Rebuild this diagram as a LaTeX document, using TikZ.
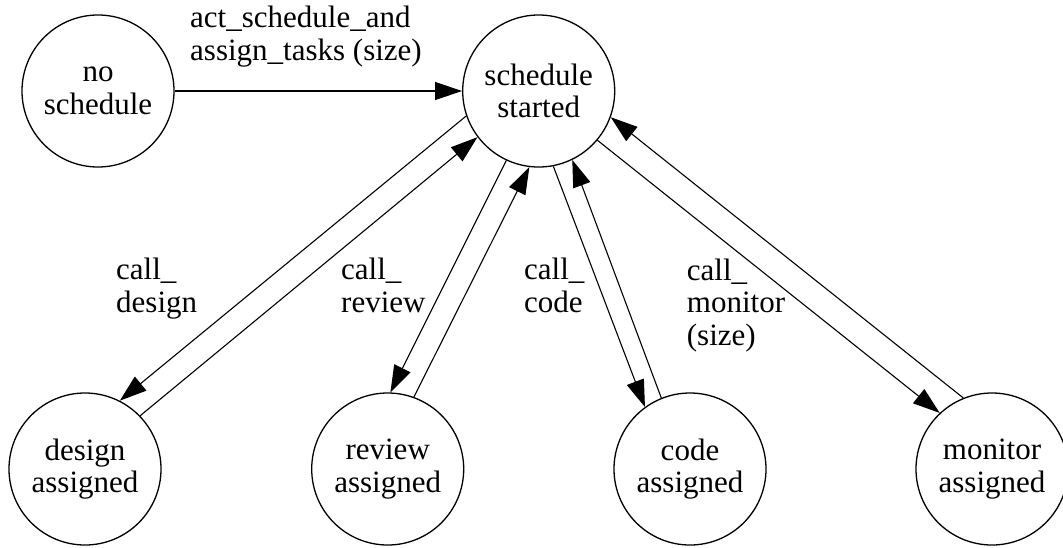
\documentclass[tikz,border=0pt]{standalone}
\usepackage{fontspec}
\setmainfont{Liberation Serif}
\usetikzlibrary{arrows.meta}
\tikzset{
  state/.style={circle, draw, line width=1.3pt, minimum size=152pt, inner sep=0pt, align=center},
  lbl/.style={anchor=base west, inner sep=0pt, align=left},
  edge/.style={line width=1.1pt, -{Triangle[length=27pt,width=18pt]}}
}
\begin{document}
\begin{tikzpicture}[x=1pt,y=-1pt,font=\fontsize{31}{32.5}\selectfont]
\useasboundingbox (0,0) rectangle (1063,547);
\node[state] (n) at (98,91) {no\\schedule};
\node[state] (s) at (538.7,91) {schedule\\started};
\node[state] (d) at (85,469) {design\\assigned};
\node[state] (r) at (387.7,469) {review\\assigned};
\node[state] (c) at (690,469) {code\\assigned};
\node[state] (m) at (992,469) {monitor\\assigned};

\draw[edge] (n.east) -- (s.west);
\draw[edge] (s.199.9) -- (d.63.1);
\draw[edge] (d.44.5) -- (s.217.8);
\draw[edge] (s.245.6) -- (r.88.3);
\draw[edge] (r.70.5) -- (s.263.1);
\draw[edge] (s.281.1) -- (c.126.6);
\draw[edge] (c.112.6) -- (s.296.6);
\draw[edge] (s.320.6) -- (m.133);
\draw[edge] (m.112.1) -- (s.340.4);

% base anchor of a multi-line node is the baseline of its last line
\node[lbl] (l0) at (190,60) {act\_schedule\_and\\assign\_tasks (size)};
\node[lbl] (l1) at (116,312) {call\_\\design};
\node[lbl] (l2) at (341,312) {call\_\\review};
\node[lbl] (l3) at (524,312) {call\_\\code};
\node[lbl] (l4) at (686.7,345) {call\_\\monitor\\(size)};
\end{tikzpicture}
\end{document}
